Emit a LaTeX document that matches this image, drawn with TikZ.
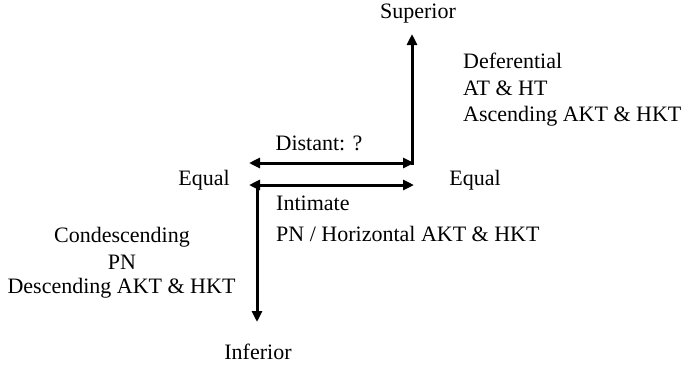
\documentclass[tikz,border=0pt]{standalone}
\usepackage{fontspec}
\setmainfont{Liberation Serif}
\usetikzlibrary{arrows.meta}
\begin{document}
\begin{tikzpicture}[x=1pt,y=-1pt,
  lbl/.style={inner sep=0pt,font=\fontsize{22}{26}\selectfont},
  ln/.style={line width=3pt,arrows={-{Triangle[length=11pt,width=10pt]}}},
  dbl/.style={line width=3pt,arrows={{Triangle[length=11pt,width=10pt]}-{Triangle[length=11pt,width=10pt]}}}]
\useasboundingbox (0,0) rectangle (683,365);
\coordinate (tl) at (249,163);
\coordinate (tr) at (414,163);
\coordinate (corner) at (412,164.5);
\coordinate (top) at (412,34);
\coordinate (bl) at (249,185);
\coordinate (br) at (414,185);
\coordinate (lcorner) at (257,183.5);
\coordinate (bot) at (257,322);
\draw[dbl] (tl) -- (tr);
\draw[ln] (corner) -- (top);
\draw[dbl] (bl) -- (br);
\draw[ln] (lcorner) -- (bot);
\node[lbl] (sup) at (418,14) {Superior};
\node[lbl,anchor=west] (def) at (463,61) {Deferential};
\node[lbl,anchor=west] (at) at (463,88) {AT \& HT};
\node[lbl,anchor=west] (asc) at (463,116) {Ascending AKT \& HKT};
\node[lbl] (dist) at (319,143) {Distant: ?};
\node[lbl] (eql) at (204,180) {Equal};
\node[lbl] (eqr) at (475,180) {Equal};
\node[lbl,anchor=west] (int) at (276,203) {Intimate};
\node[lbl,anchor=west] (pnh) at (276,234) {PN / Horizontal AKT \& HKT};
\node[lbl] (cond) at (122,237) {Condescending};
\node[lbl] (pn) at (122,262) {PN};
\node[lbl] (desc) at (121.5,288) {Descending AKT \& HKT};
\node[lbl] (inf) at (258,352) {Inferior};
\end{tikzpicture}
\end{document}
